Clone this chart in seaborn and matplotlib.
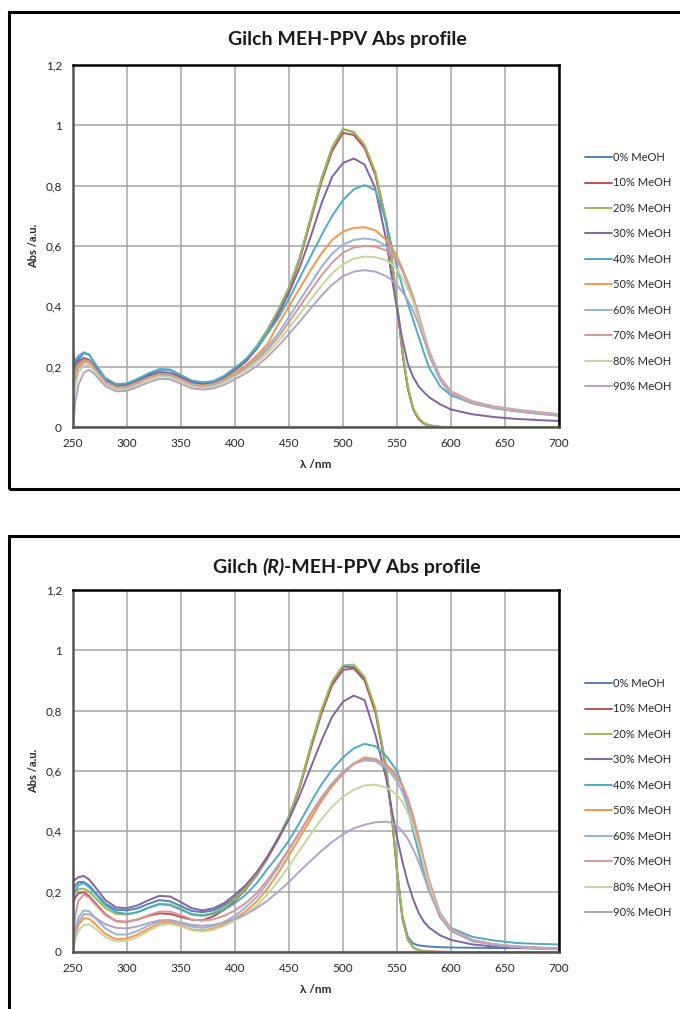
import matplotlib
matplotlib.use("Agg")
import pandas as pd
import matplotlib.pyplot as plt
import seaborn as sns
from matplotlib.patches import Rectangle
from matplotlib.offsetbox import TextArea, HPacker, AnchoredOffsetbox

wl = [250, 252, 255, 260, 265, 270, 280, 290, 300, 310, 320, 330, 340, 350, 360, 370,
      380, 390, 400, 410, 420, 430, 440, 450, 460, 470, 480, 490, 500, 510, 520, 530,
      540, 545, 550, 555, 560, 565, 570, 575, 580, 590, 600, 620, 640, 660, 680, 700]

series_names = ['0% MeOH', '10% MeOH', '20% MeOH', '30% MeOH', '40% MeOH',
                '50% MeOH', '60% MeOH', '70% MeOH', '80% MeOH', '90% MeOH']
palette = ['#4F81BD', '#C0504D', '#9BBB59', '#8064A2', '#4BACC6',
           '#F79646', '#95B3D7', '#D99694', '#C3D69B', '#B3A2C7']

x_ticks = [250, 300, 350, 400, 450, 500, 550, 600, 650, 700]
y_ticks = [0, 0.2, 0.4, 0.6, 0.8, 1.0, 1.2]
y_tick_labels = ['0', '0,2', '0,4', '0,6', '0,8', '1', '1,2']

# --- Gilch MEH-PPV (top) ---
top_0 = [0.25, 0.215, 0.225, 0.245, 0.24, 0.21, 0.16, 0.14, 0.142, 0.158, 0.175, 0.19, 0.19, 0.17, 0.152, 0.146,
         0.15, 0.168, 0.195, 0.222, 0.267, 0.322, 0.387, 0.462, 0.562, 0.692, 0.822, 0.927, 0.987, 0.977, 0.932, 0.842,
         0.68, 0.56, 0.41, 0.25, 0.13, 0.06, 0.028, 0.012, 0.005, 0.0, 0.0, 0.0, 0.0, 0.0, 0.0, 0.0]
top_10 = [0.16, 0.19, 0.215, 0.228, 0.222, 0.198, 0.153, 0.135, 0.138, 0.152, 0.168, 0.18, 0.178, 0.163, 0.146, 0.141,
          0.146, 0.163, 0.188, 0.218, 0.262, 0.317, 0.382, 0.456, 0.555, 0.683, 0.812, 0.915, 0.975, 0.968, 0.925, 0.835,
          0.675, 0.555, 0.405, 0.245, 0.128, 0.058, 0.026, 0.011, 0.005, 0.0, 0.0, 0.0, 0.0, 0.0, 0.0, 0.0]
top_20 = [0.15, 0.185, 0.21, 0.225, 0.22, 0.196, 0.15, 0.132, 0.135, 0.15, 0.165, 0.177, 0.176, 0.16, 0.144, 0.139,
          0.145, 0.162, 0.188, 0.22, 0.265, 0.32, 0.386, 0.462, 0.562, 0.692, 0.822, 0.927, 0.988, 0.978, 0.935, 0.845,
          0.685, 0.565, 0.415, 0.255, 0.135, 0.062, 0.03, 0.013, 0.006, 0.001, 0.0, 0.0, 0.0, 0.0, 0.0, 0.0]
top_30 = [0.19, 0.205, 0.22, 0.228, 0.222, 0.2, 0.155, 0.137, 0.14, 0.154, 0.17, 0.182, 0.18, 0.165, 0.148, 0.143,
          0.148, 0.165, 0.19, 0.218, 0.258, 0.31, 0.372, 0.445, 0.53, 0.63, 0.74, 0.83, 0.875, 0.89, 0.87, 0.79,
          0.62, 0.5, 0.39, 0.29, 0.21, 0.165, 0.135, 0.115, 0.098, 0.075, 0.058, 0.042, 0.033, 0.027, 0.023, 0.02]
top_40 = [0.2, 0.22, 0.235, 0.248, 0.24, 0.212, 0.162, 0.142, 0.145, 0.16, 0.178, 0.192, 0.19, 0.172, 0.154, 0.148,
          0.152, 0.17, 0.196, 0.225, 0.262, 0.31, 0.36, 0.425, 0.495, 0.565, 0.635, 0.7, 0.752, 0.788, 0.802, 0.785,
          0.68, 0.6, 0.53, 0.465, 0.41, 0.355, 0.3, 0.245, 0.195, 0.135, 0.105, 0.078, 0.063, 0.053, 0.045, 0.038]
top_50 = [0.12, 0.17, 0.205, 0.222, 0.218, 0.195, 0.15, 0.132, 0.134, 0.148, 0.164, 0.176, 0.174, 0.158, 0.142, 0.137,
          0.142, 0.158, 0.18, 0.205, 0.236, 0.275, 0.34, 0.4, 0.46, 0.52, 0.575, 0.62, 0.648, 0.66, 0.662, 0.652,
          0.62, 0.595, 0.565, 0.525, 0.48, 0.43, 0.37, 0.305, 0.245, 0.16, 0.115, 0.082, 0.066, 0.056, 0.048, 0.041]
top_60 = [0.1, 0.16, 0.2, 0.218, 0.215, 0.193, 0.148, 0.13, 0.132, 0.146, 0.162, 0.174, 0.172, 0.156, 0.14, 0.135,
          0.14, 0.155, 0.176, 0.2, 0.228, 0.265, 0.31, 0.365, 0.42, 0.475, 0.53, 0.575, 0.605, 0.62, 0.625, 0.62,
          0.6, 0.58, 0.555, 0.52, 0.475, 0.425, 0.365, 0.3, 0.24, 0.158, 0.113, 0.08, 0.065, 0.055, 0.047, 0.04]
top_70 = [0.08, 0.15, 0.195, 0.215, 0.212, 0.19, 0.146, 0.128, 0.13, 0.144, 0.16, 0.172, 0.17, 0.154, 0.138, 0.133,
          0.138, 0.152, 0.172, 0.195, 0.222, 0.256, 0.298, 0.348, 0.4, 0.452, 0.502, 0.545, 0.578, 0.595, 0.6, 0.598,
          0.585, 0.572, 0.55, 0.52, 0.478, 0.43, 0.372, 0.31, 0.25, 0.165, 0.118, 0.085, 0.068, 0.058, 0.05, 0.043]
top_80 = [0.06, 0.13, 0.18, 0.205, 0.205, 0.185, 0.142, 0.124, 0.126, 0.14, 0.156, 0.168, 0.166, 0.15, 0.135, 0.13,
          0.134, 0.148, 0.167, 0.188, 0.214, 0.245, 0.283, 0.328, 0.375, 0.422, 0.468, 0.51, 0.54, 0.558, 0.565, 0.563,
          0.553, 0.54, 0.522, 0.495, 0.46, 0.415, 0.36, 0.3, 0.24, 0.158, 0.112, 0.08, 0.064, 0.054, 0.046, 0.039]
top_90 = [0.0, 0.08, 0.14, 0.18, 0.19, 0.175, 0.135, 0.118, 0.12, 0.133, 0.148, 0.16, 0.158, 0.143, 0.128, 0.124,
          0.128, 0.14, 0.158, 0.178, 0.202, 0.232, 0.268, 0.308, 0.35, 0.393, 0.435, 0.472, 0.5, 0.515, 0.52, 0.515,
          0.5, 0.488, 0.47, 0.448, 0.42, 0.385, 0.342, 0.29, 0.235, 0.155, 0.11, 0.078, 0.062, 0.052, 0.044, 0.037]

# --- Gilch (R)-MEH-PPV (bottom) ---
bot_0 = [0.2, 0.22, 0.232, 0.232, 0.22, 0.2, 0.16, 0.14, 0.138, 0.145, 0.16, 0.172, 0.168, 0.152, 0.136, 0.132,
         0.138, 0.155, 0.18, 0.215, 0.26, 0.315, 0.378, 0.45, 0.55, 0.68, 0.8, 0.895, 0.945, 0.945, 0.905, 0.8,
         0.61, 0.46, 0.27, 0.12, 0.05, 0.028, 0.022, 0.02, 0.018, 0.016, 0.015, 0.014, 0.013, 0.013, 0.012, 0.012]
bot_10 = [0.16, 0.18, 0.195, 0.198, 0.185, 0.165, 0.125, 0.102, 0.1, 0.108, 0.12, 0.128, 0.126, 0.116, 0.107, 0.105,
          0.118, 0.14, 0.17, 0.208, 0.254, 0.31, 0.373, 0.445, 0.545, 0.672, 0.79, 0.885, 0.935, 0.94, 0.9, 0.795,
          0.605, 0.455, 0.265, 0.11, 0.04, 0.015, 0.006, 0.003, 0.002, 0.001, 0.0, 0.0, 0.0, 0.0, 0.0, 0.0]
bot_20 = [0.195, 0.2, 0.208, 0.21, 0.2, 0.182, 0.145, 0.126, 0.124, 0.132, 0.148, 0.16, 0.158, 0.143, 0.126, 0.122,
          0.13, 0.148, 0.175, 0.212, 0.258, 0.315, 0.378, 0.45, 0.552, 0.682, 0.802, 0.898, 0.95, 0.953, 0.912, 0.808,
          0.617, 0.465, 0.272, 0.115, 0.042, 0.016, 0.006, 0.003, 0.001, 0.0, 0.0, 0.0, 0.0, 0.0, 0.0, 0.0]
bot_30 = [0.235, 0.24, 0.248, 0.252, 0.24, 0.218, 0.172, 0.148, 0.145, 0.155, 0.172, 0.186, 0.184, 0.165, 0.145, 0.138,
          0.145, 0.162, 0.19, 0.222, 0.264, 0.316, 0.376, 0.44, 0.52, 0.61, 0.7, 0.78, 0.83, 0.85, 0.835, 0.72,
          0.575, 0.475, 0.38, 0.3, 0.23, 0.175, 0.13, 0.1, 0.08, 0.055, 0.04, 0.025, 0.018, 0.014, 0.012, 0.01]
bot_40 = [0.17, 0.2, 0.222, 0.228, 0.215, 0.195, 0.155, 0.132, 0.126, 0.132, 0.146, 0.158, 0.155, 0.14, 0.124, 0.12,
          0.126, 0.14, 0.162, 0.19, 0.228, 0.275, 0.32, 0.37, 0.43, 0.495, 0.555, 0.605, 0.645, 0.675, 0.69, 0.682,
          0.65, 0.625, 0.6, 0.55, 0.48, 0.4, 0.33, 0.26, 0.2, 0.12, 0.08, 0.05, 0.038, 0.03, 0.027, 0.025]
bot_50 = [0.0, 0.05, 0.09, 0.112, 0.11, 0.095, 0.06, 0.042, 0.045, 0.058, 0.078, 0.095, 0.098, 0.088, 0.075, 0.072,
          0.078, 0.092, 0.11, 0.135, 0.167, 0.21, 0.262, 0.32, 0.38, 0.44, 0.5, 0.55, 0.59, 0.625, 0.645, 0.64,
          0.618, 0.6, 0.578, 0.55, 0.505, 0.445, 0.375, 0.3, 0.23, 0.125, 0.075, 0.038, 0.025, 0.018, 0.014, 0.012]
bot_60 = [0.0, 0.07, 0.115, 0.138, 0.135, 0.115, 0.078, 0.058, 0.058, 0.07, 0.088, 0.102, 0.104, 0.095, 0.084, 0.08,
          0.086, 0.1, 0.12, 0.148, 0.182, 0.228, 0.28, 0.338, 0.398, 0.458, 0.513, 0.56, 0.598, 0.625, 0.635, 0.632,
          0.61, 0.59, 0.565, 0.53, 0.48, 0.42, 0.35, 0.28, 0.21, 0.115, 0.07, 0.036, 0.024, 0.017, 0.013, 0.011]
bot_70 = [0.0, 0.12, 0.17, 0.19, 0.18, 0.16, 0.122, 0.102, 0.1, 0.108, 0.122, 0.134, 0.134, 0.122, 0.108, 0.104,
          0.108, 0.12, 0.138, 0.162, 0.195, 0.238, 0.288, 0.342, 0.398, 0.455, 0.508, 0.555, 0.593, 0.623, 0.64, 0.638,
          0.622, 0.605, 0.582, 0.553, 0.51, 0.45, 0.38, 0.305, 0.235, 0.128, 0.078, 0.04, 0.026, 0.019, 0.015, 0.013]
bot_80 = [0.0, 0.04, 0.07, 0.09, 0.092, 0.08, 0.05, 0.035, 0.037, 0.05, 0.07, 0.088, 0.093, 0.085, 0.072, 0.068,
          0.074, 0.087, 0.104, 0.125, 0.152, 0.19, 0.235, 0.285, 0.338, 0.39, 0.44, 0.482, 0.515, 0.538, 0.552, 0.555,
          0.545, 0.535, 0.52, 0.498, 0.462, 0.415, 0.355, 0.285, 0.22, 0.12, 0.072, 0.036, 0.024, 0.017, 0.013, 0.011]
bot_90 = [0.0, 0.06, 0.1, 0.125, 0.125, 0.115, 0.092, 0.08, 0.078, 0.085, 0.096, 0.105, 0.106, 0.098, 0.09, 0.087,
          0.09, 0.098, 0.11, 0.125, 0.145, 0.17, 0.2, 0.232, 0.268, 0.302, 0.335, 0.365, 0.39, 0.41, 0.422, 0.43,
          0.432, 0.428, 0.418, 0.4, 0.375, 0.34, 0.3, 0.25, 0.2, 0.115, 0.07, 0.036, 0.024, 0.017, 0.013, 0.011]

top_series = [top_0, top_10, top_20, top_30, top_40, top_50, top_60, top_70, top_80, top_90]
bot_series = [bot_0, bot_10, bot_20, bot_30, bot_40, bot_50, bot_60, bot_70, bot_80, bot_90]


def to_long(series):
    rows = []
    for name, vals in zip(series_names, series):
        for w, v in zip(wl, vals):
            rows.append([w, v, name])
    return pd.DataFrame(rows, columns=['wl', 'abs', 'serie'])


sns.set_style("white")
plt.rcParams['font.family'] = ['Lato', 'DejaVu Sans']

W, H = 680, 1009
fig = plt.figure(figsize=(W / 100, H / 100), dpi=100)
fig.patch.set_facecolor('white')


def px_ax(left, top, right, bottom):
    return [left / W, 1 - bottom / H, (right - left) / W, (bottom - top) / H]


def panel(rect, series, title_parts, title_y, legend_y):
    ax = fig.add_axes(rect)
    df = to_long(series)
    sns.lineplot(data=df, x='wl', y='abs', hue='serie', palette=palette,
                 hue_order=series_names, sort=False, estimator=None,
                 linewidth=1.4, ax=ax)
    ax.set_xlim(250, 700)
    ax.set_ylim(0, 1.2)
    ax.set_xticks(x_ticks)
    ax.set_xticklabels([str(t) for t in x_ticks])
    ax.set_yticks(y_ticks)
    ax.set_yticklabels(y_tick_labels)
    ax.grid(True, color='#a6a6a6', linewidth=1.1)
    ax.set_axisbelow(True)
    for s in ['top', 'right']:
        ax.spines[s].set_color('black')
        ax.spines[s].set_linewidth(1.8)
    for s in ['left', 'bottom']:
        ax.spines[s].set_color('#555555')
        ax.spines[s].set_linewidth(1.8)
    ax.tick_params(axis='both', direction='out', length=3, width=1, color='#888888',
                   labelsize=8.5, labelcolor='#262626', pad=5)
    ax.set_xlabel('λ /nm', fontsize=8.5, fontweight='bold', color='#262626')
    ax.set_ylabel('Abs /a.u.', fontsize=8, fontweight='bold', color='#262626')
    ax.xaxis.set_label_coords(0.5, -0.088)
    ax.yaxis.set_label_coords(-0.07, 0.5)

    handles, labels = ax.get_legend_handles_labels()
    ax.legend(handles, labels, loc='center left', bbox_to_anchor=(585 / W, 1 - legend_y / H),
              bbox_transform=fig.transFigure, frameon=False, fontsize=8,
              handlelength=2.4, handletextpad=0.1, labelspacing=1.3, borderaxespad=0, borderpad=0,
              labelcolor='#262626')

    boxes = [TextArea(t, textprops=dict(fontsize=14, fontweight='bold', fontstyle=st, color='#1a1a1a'))
             for t, st in title_parts]
    pack = HPacker(children=boxes, align='baseline', pad=0, sep=0)
    anch = AnchoredOffsetbox(loc='center', child=pack, pad=0, borderpad=0, frameon=False,
                             bbox_to_anchor=(347 / W, 1 - title_y / H),
                             bbox_transform=fig.transFigure)
    fig.add_artist(anch)
    return ax


panel(px_ax(73, 65, 559, 427), top_series,
      [('Gilch MEH-PPV Abs profile', 'normal')], 40, 272)
panel(px_ax(73, 590, 559, 952), bot_series,
      [('Gilch ', 'normal'), ('(R)', 'italic'), ('-MEH-PPV Abs profile', 'normal')], 567, 798)

# chart-area frames
fig.add_artist(Rectangle((8.5 / W, 1 - 489 / H), 1.0, (489 - 11.5) / H, transform=fig.transFigure,
                         fill=False, edgecolor='black', linewidth=2.2))
fig.add_artist(Rectangle((8.5 / W, -0.05), 1.0, 0.05 + (1 - 536 / H), transform=fig.transFigure,
                         fill=False, edgecolor='black', linewidth=2.2))

fig.savefig('out.png', dpi=100, facecolor='white')
